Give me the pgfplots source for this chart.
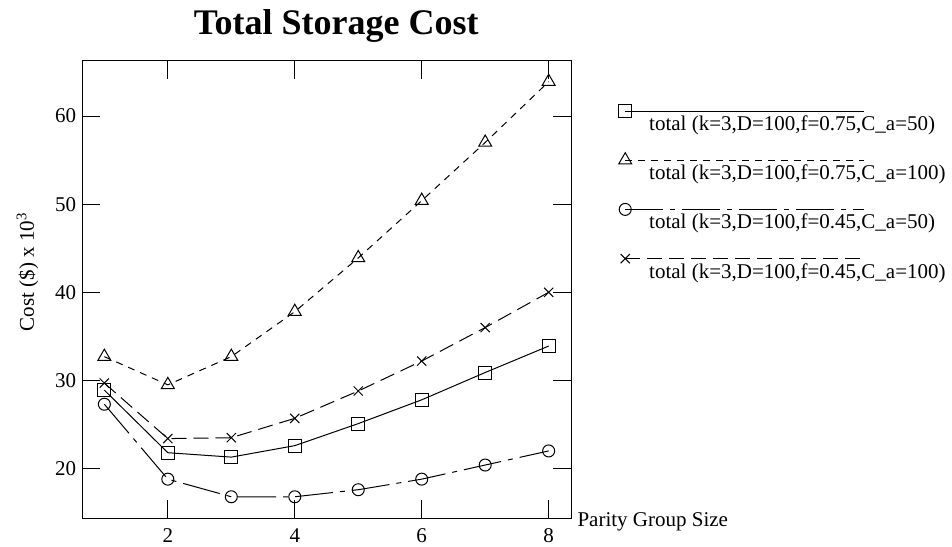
\documentclass[border=0pt]{standalone}
\usepackage{pgfplots}
\pgfplotsset{compat=1.18}
\usepackage{fontspec}
\setmainfont{Liberation Serif}
\newcommand{\txt}{\fontsize{21}{25}\selectfont}
\begin{document}
\begin{tikzpicture}
\useasboundingbox (0,0) rectangle (952pt,546pt);
\begin{axis}[
  at={(82.3pt,27.7pt)}, anchor=south west,
  scale only axis, width=488.7pt, height=457.6pt,
  xmin=0.6525, xmax=8.352, ymin=14.357, ymax=66.28,
  xtick={2,4,6,8}, ytick={20,30,40,50,60},
  tick align=inside, major tick length=18pt,
  axis line style={line width=1pt},
  every tick/.style={line width=1pt, black},
  /pgf/number format/assume math mode=true,
  tick label style={font=\txt, inner sep=0pt},
  xticklabel style={anchor=north, yshift=-10pt},
  yticklabel style={anchor=east, xshift=-6pt},
  every axis title shift=0pt,
  title={Total Storage Cost},
  title style={at={(axis description cs:0.5197,1.0570)}, anchor=base, yshift=0pt, inner sep=0pt,
    font=\fontsize{36}{40}\selectfont\bfseries},
  xlabel={Parity Group Size},
  xlabel style={at={(axis description cs:1.0129,-0.0188)}, anchor=base west, font=\txt, inner sep=0pt},
  ylabel={Cost (\$) x 10\textsuperscript{3}},
  ylabel style={at={(axis description cs:-0.112,0.538)}, anchor=center, font=\txt, inner sep=0pt},
  legend style={at={(axis description cs:1.0966,0.9130)}, anchor=north west, draw=none, fill=none,
    inner sep=0pt, outer sep=0pt, row sep=9.2pt, font=\txt,
    cells={anchor=base west}, nodes={inner sep=0pt}},
  legend image code/.code={
    \path[draw=none, fill=none] (-7pt,-10pt) rectangle (24pt,30pt);
    \draw[#1, overlay] (0pt,19.5pt) -- (239pt,19.5pt);
    \draw[#1] plot coordinates {(0pt,19.5pt)};
  },
]
\addplot[black, line width=1pt, mark=square, mark size=6.5pt, mark options={solid, fill=none}]
  coordinates {(1,28.9) (2,21.8) (3,21.3) (4,22.6) (5,25.1) (6,27.8) (7,30.9) (8,33.9)};
\addlegendentry{total (k=3,D=100,f=0.75,C\_a=50)}
\addplot[black, line width=1pt, dash pattern=on 7pt off 6pt, mark=triangle, mark size=7.5pt, mark options={solid, fill=none}]
  coordinates {(1,32.7) (2,29.5) (3,32.7) (4,37.8) (5,43.9) (6,50.4) (7,57.0) (8,63.9)};
\addlegendentry{total (k=3,D=100,f=0.75,C\_a=100)}
\addplot[black, line width=1pt, dash pattern=on 38pt off 7pt on 5pt off 7pt, mark=o, mark size=6pt, mark options={solid, fill=none}]
  coordinates {(1,27.3) (2,18.8) (3,16.8) (4,16.8) (5,17.6) (6,18.8) (7,20.4) (8,22.0)};
\addlegendentry{total (k=3,D=100,f=0.45,C\_a=50)}
\addplot[black, line width=1pt, dash pattern=on 15pt off 7pt, mark=x, mark size=6.5pt, mark options={solid, fill=none}]
  coordinates {(1,29.7) (2,23.4) (3,23.5) (4,25.7) (5,28.8) (6,32.2) (7,36.0) (8,40.0)};
\addlegendentry{total (k=3,D=100,f=0.45,C\_a=100)}
\end{axis}
\end{tikzpicture}
\end{document}
